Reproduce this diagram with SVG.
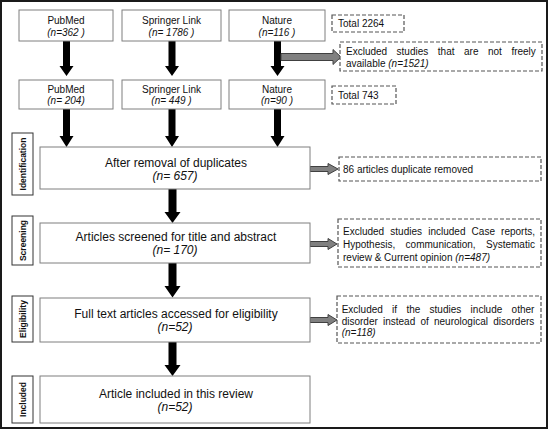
<svg xmlns="http://www.w3.org/2000/svg" width="550" height="432" viewBox="0 0 550 432">
<style>
.bg{fill:#fff}
.frame{fill:none;stroke:#1a1a1a;stroke-width:2}
.box{fill:#fff;stroke:#7f7f7f;stroke-width:1}
.lab{fill:#fff;stroke:#333;stroke-width:1}
.dash{fill:#fff;stroke:#555;stroke-width:1.2;stroke-dasharray:4 2}
.t10{font-family:"Liberation Sans",Arial,sans-serif;font-size:10px;fill:#111}
.t12{font-family:"Liberation Sans",Arial,sans-serif;font-size:12px;fill:#111}
.mid{text-anchor:middle}
.it{font-style:italic}
.lbl{font-family:"Liberation Sans",Arial,sans-serif;font-size:8.5px;font-weight:bold;fill:#111;text-anchor:middle}
.blk{fill:#000}
.gry{fill:#808080;stroke:#404040;stroke-width:1}
</style>
<rect class="bg" x="0" y="0" width="550" height="432"/>
<rect class="frame" x="1" y="1" width="546" height="427"/>

<g id="connectors">
  <polygon class="blk" points="63,41 70,41 70,66 73.5,66 66.5,76 59.5,66 63,66"/>
  <polygon class="blk" points="168.5,41 175.5,41 175.5,66 179,66 172,76 165,66 168.5,66"/>
  <polygon class="blk" points="274,41 281,41 281,66 284.5,66 277.5,76 270.5,66 274,66"/>
  <polygon class="blk" points="63,109 70,109 70,136 73.5,136 66.5,147 59.5,136 63,136"/>
  <polygon class="blk" points="168.5,109 175.5,109 175.5,136 179,136 172,147 165,136 168.5,136"/>
  <polygon class="blk" points="274,109 281,109 281,136 284.5,136 277.5,147 270.5,136 274,136"/>
  <polygon class="blk" points="168.5,189 176.5,189 176.5,212 180.5,212 172.5,223 164.5,212 168.5,212"/>
  <polygon class="blk" points="168.5,263 176.5,263 176.5,286 180.5,286 172.5,297.5 164.5,286 168.5,286"/>
  <polygon class="blk" points="168.5,342 176.5,342 176.5,365 180.5,365 172.5,376 164.5,365 168.5,365"/>
  <polygon class="gry" points="281,53.5 333,53.5 333,49.5 341,57 333,64.5 333,60.5 281,60.5"/>
  <polygon class="gry" points="310,166.5 328,166.5 328,163.5 338,169 328,174.5 328,171.5 310,171.5"/>
  <polygon class="gry" points="310,241.5 328,241.5 328,238.5 337,244 328,249.5 328,246.5 310,246.5"/>
  <polygon class="gry" points="310,317.5 328,317.5 328,314.5 337,320 328,325.5 328,322.5 310,322.5"/>
</g>

<g id="pubmed1">
  <rect class="box" x="19" y="10" width="94" height="31"/>
  <text class="t10 mid" x="66" y="23.5">PubMed</text>
  <text class="t10 mid it" x="66" y="36">(n=362 )</text>
</g>
<g id="springer1">
  <rect class="box" x="122" y="10" width="99" height="31"/>
  <text class="t10 mid" x="171.5" y="23.5">Springer Link</text>
  <text class="t10 mid it" x="171.5" y="36">(n= 1786 )</text>
</g>
<g id="nature1">
  <rect class="box" x="229" y="10" width="96" height="31"/>
  <text class="t10 mid" x="277" y="23.5">Nature</text>
  <text class="t10 mid it" x="277" y="36">(n=116 )</text>
</g>
<g id="total1">
  <rect class="dash" x="332" y="15" width="72" height="17"/>
  <text class="t10" x="338" y="26.5">Total 2264</text>
</g>
<g id="excl1">
  <rect class="dash" x="340" y="42" width="202" height="29"/>
  <text class="t10" y="55"><tspan x="346">Excluded</tspan><tspan x="396.6">studies</tspan><tspan x="437.8">that</tspan><tspan x="464">are</tspan><tspan x="488">not</tspan><tspan x="511.4">freely</tspan></text>
  <text class="t10" x="346" y="67">available <tspan class="it">(n=1521)</tspan></text>
</g>

<g id="pubmed2">
  <rect class="box" x="19" y="80" width="94" height="29"/>
  <text class="t10 mid" x="66" y="93">PubMed</text>
  <text class="t10 mid it" x="66" y="104">(n= 204)</text>
</g>
<g id="springer2">
  <rect class="box" x="122" y="80" width="99" height="29"/>
  <text class="t10 mid" x="171.5" y="93">Springer Link</text>
  <text class="t10 mid it" x="171.5" y="104">(n= 449 )</text>
</g>
<g id="nature2">
  <rect class="box" x="229" y="80" width="96" height="29"/>
  <text class="t10 mid" x="277" y="93">Nature</text>
  <text class="t10 mid it" x="277" y="104">(n=90 )</text>
</g>
<g id="total2">
  <rect class="dash" x="332" y="86" width="64" height="18"/>
  <text class="t10" x="338" y="98.5">Total 743</text>
</g>

<g id="identification">
  <rect class="lab" x="12" y="133" width="21" height="62"/>
  <text class="lbl" transform="translate(25.5,164) rotate(-90)">Identification</text>
  <rect class="box" x="40" y="147" width="270" height="42"/>
  <text class="t12 mid" x="176" y="166.5">After removal of duplicates</text>
  <text class="t12 mid it" x="175" y="179.5">(n= 657)</text>
</g>
<g id="dup">
  <rect class="dash" x="339" y="157" width="202" height="24"/>
  <text class="t10" x="343" y="173">86 articles duplicate removed</text>
</g>

<g id="screening">
  <rect class="lab" x="12" y="216" width="21" height="49"/>
  <text class="lbl" transform="translate(25.5,240.5) rotate(-90)">Screening</text>
  <rect class="box" x="40" y="223" width="270" height="40"/>
  <text class="t12 mid" x="176" y="240.5">Articles screened for title and abstract</text>
  <text class="t12 mid it" x="175" y="253.5">(n= 170)</text>
</g>
<g id="excl2">
  <rect class="dash" x="338" y="219" width="203" height="48"/>
  <text class="t10" y="234.5"><tspan x="343">Excluded</tspan><tspan x="390.3">studies</tspan><tspan x="428.2">included</tspan><tspan x="471.6">Case</tspan><tspan x="501.1">reports,</tspan></text>
  <text class="t10" y="247.5"><tspan x="343">Hypothesis,</tspan><tspan x="405.6">communication,</tspan><tspan x="486">Systematic</tspan></text>
  <text class="t10" x="343" y="260.5">review &amp; Current opinion <tspan class="it">(n=487)</tspan></text>
</g>

<g id="eligibility">
  <rect class="lab" x="12" y="296" width="21" height="46"/>
  <text class="lbl" transform="translate(25.5,319) rotate(-90)">Eligibility</text>
  <rect class="box" x="40" y="298" width="270" height="44"/>
  <text class="t12 mid" x="176" y="318">Full text articles accessed for eligibility</text>
  <text class="t12 mid it" x="175" y="331">(n=52)</text>
</g>
<g id="excl3">
  <rect class="dash" x="337" y="296" width="204" height="47"/>
  <text class="t10" y="313"><tspan x="341.7">Excluded</tspan><tspan x="392.1">if</tspan><tspan x="406.4">the</tspan><tspan x="429.6">studies</tspan><tspan x="470.6">include</tspan><tspan x="511.6">other</tspan></text>
  <text class="t10" y="324.5"><tspan x="341.7">disorder</tspan><tspan x="383">instead</tspan><tspan x="420.5">of</tspan><tspan x="434">neurological</tspan><tspan x="493.2">disorders</tspan></text>
  <text class="t10 it" x="341.7" y="336">(n=118)</text>
</g>

<g id="included">
  <rect class="lab" x="12" y="376" width="21" height="47"/>
  <text class="lbl" transform="translate(25.5,399.5) rotate(-90)">Included</text>
  <rect class="box" x="40" y="376" width="270" height="47"/>
  <text class="t12 mid" x="176" y="397.5">Article included in this review</text>
  <text class="t12 mid it" x="175" y="410.5">(n=52)</text>
</g>
</svg>
